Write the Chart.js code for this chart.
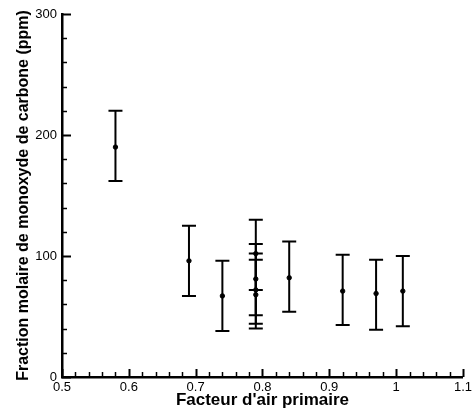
<!DOCTYPE html>
<html>
<head>
<meta charset="utf-8">
<script src="https://cdn.jsdelivr.net/npm/chart.js@4"></script>
<style>
html,body{margin:0;padding:0;background:#fff;}
#wrap{width:475px;height:411px;position:relative;}
</style>
</head>
<body>
<div id="wrap"><canvas id="c"></canvas></div>
<script>
// Data
const xValues     = [0.58, 0.69, 0.74, 0.79, 0.79, 0.79, 0.79, 0.84, 0.92, 0.97, 1.01];
const meanValues  = [190,  96,   67,   102,  81,   72,   68,   82,   71,   69,   71];
const upperValues = [220,  125,  96,   130,  110,  102,  97,   112,  101,  97,   100];
const lowerValues = [162,  67,   38,   72,   51,   44,   40,   54,   43,   39,   42];

const xTickValues = [0.5, 0.6, 0.7, 0.8, 0.9, 1, 1.1];
const xTickLabels = ['0.5', '0.6', '0.7', '0.8', '0.9', '1', '1.1'];
const yTickValues = [0, 100, 200, 300];
const yTickLabels = ['0', '100', '200', '300'];

const xTitle = "Facteur d'air primaire";
const yTitle = "Fraction molaire de monoxyde de carbone (ppm)";

const points = xValues.map((x, i) => ({x: x, y: meanValues[i]}));

const errorBars = {
  id: 'errorBars',
  afterDatasetsDraw(chart) {
    const {ctx, scales: {x, y}} = chart;
    ctx.save();
    ctx.strokeStyle = '#000';
    ctx.lineWidth = 2;
    xValues.forEach((xv, i) => {
      const px = x.getPixelForValue(xv);
      const pt = y.getPixelForValue(upperValues[i]);
      const pb = y.getPixelForValue(lowerValues[i]);
      ctx.beginPath();
      ctx.moveTo(px, pt); ctx.lineTo(px, pb);
      ctx.moveTo(px - 7, pt); ctx.lineTo(px + 7, pt);
      ctx.moveTo(px - 7, pb); ctx.lineTo(px + 7, pb);
      ctx.stroke();
    });
    ctx.restore();
  }
};

const inwardTicks = {
  id: 'inwardTicks',
  afterDraw(chart) {
    const {ctx, scales: {x, y}, chartArea} = chart;
    ctx.save();
    ctx.strokeStyle = '#000';
    for (let k = 0; k <= 30; k++) {
      const v = 0.5 + k * 0.02;
      const major = k % 5 === 0;
      const px = Math.round(x.getPixelForValue(v)) + 0.5;
      ctx.lineWidth = major ? 2 : 1.5;
      ctx.beginPath();
      ctx.moveTo(px, chartArea.bottom);
      ctx.lineTo(px, chartArea.bottom - (major ? 8 : 5));
      ctx.stroke();
    }
    for (let k = 0; k <= 15; k++) {
      const v = k * 20;
      const major = k % 5 === 0;
      const py = Math.round(y.getPixelForValue(v)) + 0.5;
      ctx.lineWidth = major ? 2 : 1.5;
      ctx.beginPath();
      ctx.moveTo(chartArea.left, py);
      ctx.lineTo(chartArea.left + (major ? 9 : 5), py);
      ctx.stroke();
    }
    ctx.restore();
  }
};

new Chart(document.getElementById('c'), {
  type: 'scatter',
  data: {
    datasets: [{
      data: points,
      backgroundColor: '#000',
      borderColor: '#000',
      pointRadius: 2.2,
      pointHoverRadius: 2.2,
      showLine: false
    }]
  },
  options: {
    responsive: true,
    maintainAspectRatio: false,
    animation: false,
    events: [],
    layout: {padding: {top: 14, right: 8, left: 0, bottom: 0}},
    plugins: {legend: {display: false}, tooltip: {enabled: false}},
    scales: {
      x: {
        type: 'linear',
        min: 0.5, max: 1.1,
        afterBuildTicks: (s) => { s.ticks = xTickValues.map(v => ({value: v})); },
        afterFit: (s) => { s.height = 34; },
        ticks: {
          color: '#000',
          font: {family: 'Liberation Sans, Arial, sans-serif', size: 13},
          padding: 3,
          maxRotation: 0,
          autoSkip: false,
          callback: (v) => { const i = xTickValues.findIndex(t => Math.abs(t - v) < 1e-9); return i >= 0 ? xTickLabels[i] : ''; }
        },
        grid: {display: false, drawTicks: false},
        border: {display: true, color: '#000', width: 2.5},
        title: {
          display: true,
          text: xTitle,
          color: '#000',
          font: {family: 'Liberation Sans, Arial, sans-serif', size: 17, weight: 'bold'},
          padding: {top: 0, bottom: 0}
        }
      },
      y: {
        type: 'linear',
        min: 0, max: 300,
        afterBuildTicks: (s) => { s.ticks = yTickValues.map(v => ({value: v})); },
        afterFit: (s) => { s.width = 62; },
        ticks: {
          color: '#000',
          font: {family: 'Liberation Sans, Arial, sans-serif', size: 13},
          padding: 5,
          callback: (v) => { const i = yTickValues.indexOf(v); return i >= 0 ? yTickLabels[i] : ''; }
        },
        grid: {display: false, drawTicks: false},
        border: {display: true, color: '#000', width: 2.5},
        title: {
          display: true,
          text: yTitle,
          color: '#000',
          font: {family: 'Liberation Sans, Arial, sans-serif', size: 16, weight: 'bold'},
          padding: {top: 14, bottom: 0}
        }
      }
    }
  },
  plugins: [errorBars, inwardTicks]
});
</script>
</body>
</html>
